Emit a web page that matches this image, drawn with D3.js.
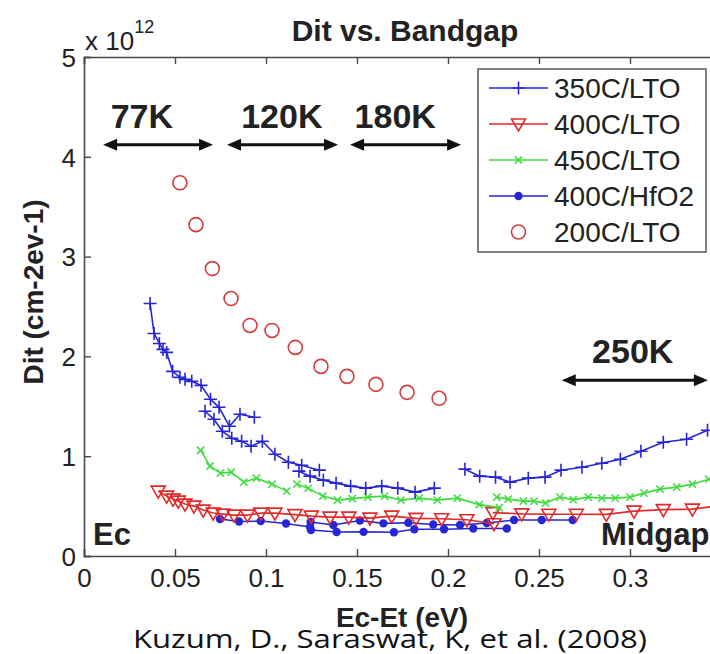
<!DOCTYPE html>
<html>
<head>
<meta charset="utf-8">
<script src="https://cdn.jsdelivr.net/npm/d3@7/dist/d3.min.js"></script>
<style>
  html, body { margin: 0; padding: 0; background: #fff; }
  svg { display: block; }
</style>
</head>
<body>
<svg id="chart" width="710" height="654"></svg>
<script>
// ---- data: Dit (x 1e12 cm^-2 eV^-1) against Ec-Et (eV) ----
const xTicks = [0, 0.05, 0.1, 0.15, 0.2, 0.25, 0.3];
const xTickLabels = ["0", "0.05", "0.1", "0.15", "0.2", "0.25", "0.3"];
const yTicks = [0, 1, 2, 3, 4, 5];
const yTickLabels = ["0", "1", "2", "3", "4", "5"];

const seriesNames = ["350C/LTO", "400C/LTO", "450C/LTO", "400C/HfO2", "200C/LTO"];

// 350C/LTO, one run per measurement temperature
const lto350_77K = [[0.0363,2.53],[0.0385,2.23],[0.0414,2.13],[0.0434,2.07],[0.0454,2.04],[0.0487,1.85],[0.0527,1.79],[0.0555,1.77],[0.0592,1.75],[0.0643,1.71],[0.0695,1.57],[0.0742,1.49],[0.0799,1.30],[0.0857,1.42],[0.0936,1.39]];
const lto350_120K = [[0.0665,1.45],[0.0714,1.37],[0.0760,1.25],[0.0812,1.18],[0.0866,1.15],[0.0918,1.10],[0.0980,1.15],[0.1049,1.02],[0.1123,0.94],[0.1196,0.91],[0.1293,0.86]];
const lto350_180K = [[0.1181,0.85],[0.1242,0.80],[0.1315,0.76],[0.1385,0.73],[0.1465,0.70],[0.1548,0.68],[0.1636,0.70],[0.1724,0.68],[0.1819,0.64],[0.1925,0.68]];
const lto350_250K = [[0.2093,0.87],[0.2174,0.80],[0.2261,0.79],[0.2341,0.74],[0.2441,0.78],[0.2533,0.79],[0.2621,0.86],[0.2736,0.89],[0.2845,0.93],[0.2947,0.97],[0.3060,1.05],[0.3183,1.14],[0.3311,1.17],[0.3426,1.26]];

// 400C/LTO
const lto400_low = [[0.0408,0.65],[0.0454,0.60],[0.0489,0.57],[0.0518,0.55],[0.0555,0.52],[0.0604,0.50],[0.0655,0.46],[0.0710,0.43],[0.0764,0.42],[0.0824,0.41],[0.0898,0.41],[0.0971,0.43],[0.1049,0.43],[0.1159,0.415],[0.1249,0.40],[0.1352,0.39],[0.1455,0.39],[0.1571,0.38],[0.1691,0.40],[0.1824,0.377],[0.1965,0.373],[0.2104,0.363],[0.2253,0.323]];
const lto400_high = [[0.2247,0.435],[0.2405,0.422],[0.2554,0.418],[0.2705,0.418],[0.2870,0.417],[0.3022,0.45],[0.3183,0.465],[0.3343,0.47],[0.3520,0.51]];

// 450C/LTO
const lto450_a = [[0.0641,1.06],[0.0692,0.90],[0.0750,0.83],[0.0809,0.84],[0.0878,0.74],[0.0947,0.78],[0.1033,0.72],[0.1114,0.65]];
const lto450_b = [[0.1170,0.72],[0.1232,0.68],[0.1312,0.60],[0.1393,0.56],[0.1474,0.575],[0.1560,0.59],[0.1652,0.60],[0.1741,0.56],[0.1842,0.58],[0.1941,0.56],[0.2051,0.58],[0.2172,0.515],[0.2282,0.485]];
const lto450_c = [[0.2268,0.59],[0.2331,0.57],[0.2414,0.55],[0.2473,0.55],[0.2536,0.53],[0.2615,0.59],[0.2688,0.565],[0.2771,0.59],[0.2845,0.58],[0.2918,0.58],[0.3000,0.59],[0.3077,0.63],[0.3165,0.67],[0.3257,0.69],[0.3343,0.72],[0.3433,0.77]];

// 400C/HfO2
const hfo2_a = [[0.0747,0.37],[0.0852,0.345],[0.0971,0.35],[0.1110,0.325],[0.1242,0.29]];
const hfo2_b = [[0.1247,0.26],[0.1388,0.24],[0.1536,0.242],[0.1703,0.238],[0.1815,0.268],[0.1978,0.268],[0.2139,0.275],[0.2323,0.275]];
const hfo2_c = [[0.1245,0.34],[0.1370,0.31],[0.1516,0.355],[0.1645,0.327],[0.1782,0.333],[0.1919,0.315],[0.2066,0.31],[0.2213,0.33],[0.2363,0.36],[0.2515,0.36],[0.2685,0.36]];

// 200C/LTO (markers only)
const lto200 = [[0.0527,3.74],[0.0615,3.32],[0.0705,2.88],[0.0808,2.58],[0.0912,2.31],[0.1033,2.26],[0.1161,2.09],[0.1302,1.90],[0.1445,1.80],[0.1604,1.72],[0.1775,1.64],[0.1951,1.58]];

// temperature windows marked with arrows
const tempLabels = ["77K", "120K", "180K", "250K"];
const tempRanges = [[0.0105, 0.0709], [0.0786, 0.1396], [0.1462, 0.2072], [0.2625, 0.3428]];
const tempLevels = [4.12, 4.12, 4.12, 1.76];
const tempLabelPos = [0.0318, 0.1087, 0.1710, 0.3015];

// ---- styles ----
const BLUE = "#2626d6", RED = "#e22a2a", GREEN = "#3fdc3f", CIRC = "#d43c3c", AXIS = "#4a4a4a";
const SANS = "'Liberation Sans', Arial, sans-serif";

const svg = d3.select("#chart");
const x = d3.scaleLinear().domain([0, 0.35]).range([84, 721]);
const y = d3.scaleLinear().domain([0, 5]).range([556, 57]);

svg.append("defs").append("clipPath").attr("id", "plotclip")
  .append("rect").attr("x", 84).attr("y", 40).attr("width", 637).attr("height", 530);

// axes (ticks pointing inward, box on top)
const axisBottom = d3.axisBottom(x).tickValues(xTicks).tickFormat((d, i) => xTickLabels[i]).tickSize(-7).tickPadding(13);
const axisTop = d3.axisTop(x).tickValues(xTicks).tickFormat("").tickSize(-7);
const axisLeft = d3.axisLeft(y).tickValues(yTicks).tickFormat((d, i) => yTickLabels[i]).tickSize(-7).tickPadding(8);

function styleAxis(g) {
  g.selectAll(".domain").attr("stroke", AXIS).attr("stroke-width", 1.6);
  g.selectAll(".tick line").attr("stroke", AXIS).attr("stroke-width", 1.4);
  g.selectAll(".tick text").attr("fill", "#222").style("font-family", SANS).style("font-size", "26px");
}
svg.append("g").attr("transform", "translate(0,556)").call(axisBottom).call(styleAxis)
  .call(g => g.selectAll(".tick text").attr("dy", "0.71em"));
svg.append("g").attr("transform", "translate(0,57)").call(axisTop).call(styleAxis);
svg.append("g").attr("transform", "translate(84,0)").call(axisLeft).call(styleAxis)
  .call(g => g.selectAll(".tick text").attr("dy", "0.36em"));

// exponent note
const expo = svg.append("text").attr("x", 85).attr("y", 50)
  .style("font-family", SANS).style("font-size", "26px").attr("fill", "#222");
expo.append("tspan").text("x 10");
expo.append("tspan").attr("dy", -17).style("font-size", "18px").text("12");

// title & axis labels
svg.append("text").attr("x", 405).attr("y", 41).attr("text-anchor", "middle")
  .style("font-family", SANS).style("font-weight", "bold").style("font-size", "30px")
  .attr("fill", "#222").text("Dit vs. Bandgap");
svg.append("text").attr("transform", "translate(43,292) rotate(-90)").attr("text-anchor", "middle")
  .style("font-family", SANS).style("font-weight", "bold").style("font-size", "28px")
  .attr("fill", "#222").text("Dit (cm-2ev-1)");
svg.append("text").attr("x", 402).attr("y", 627).attr("text-anchor", "middle")
  .style("font-family", SANS).style("font-weight", "bold").style("font-size", "28px")
  .attr("fill", "#222").text("Ec-Et (eV)");
svg.append("text").attr("x", 390).attr("y", 648).attr("text-anchor", "middle")
  .style("font-family", "'Open Sans', 'Noto Sans', sans-serif").style("font-size", "25px")
  .attr("textLength", 514).attr("lengthAdjust", "spacingAndGlyphs")
  .attr("fill", "#111").text("Kuzum, D., Saraswat, K, et al. (2008)");

// ---- marker shapes ----
const plusPath = s => `M${-s},0H${s}M0,${-s}V${s}`;
const xPath = s => `M${-s},${-s}L${s},${s}M${-s},${s}L${s},${-s}`;
const triPath = (w, h1, h2) => `M${-w},${-h1}L${w},${-h1}L0,${h2}Z`;

const plot = svg.append("g").attr("clip-path", "url(#plotclip)");
const line = d3.line().x(d => x(d[0])).y(d => y(d[1]));

function drawRun(data, color, marker) {
  plot.append("path").datum(data).attr("d", line).attr("fill", "none")
    .attr("stroke", color).attr("stroke-width", 1.6);
  const pts = plot.append("g").selectAll("g").data(data).join("g")
    .attr("transform", d => `translate(${x(d[0])},${y(d[1])})`);
  marker(pts, color);
}
const plusMarker = (sel, c) => sel.append("path").attr("d", plusPath(6.5)).attr("stroke", c).attr("stroke-width", 1.6).attr("fill", "none");
const triMarker = (sel, c) => sel.append("path").attr("d", triPath(7, 5, 7)).attr("stroke", c).attr("stroke-width", 1.6).attr("fill", "none");
const xMarker = (sel, c) => sel.append("path").attr("d", xPath(3.6)).attr("stroke", c).attr("stroke-width", 1.6).attr("fill", "none");
const dotMarker = (sel, c) => sel.append("circle").attr("r", 4.2).attr("fill", c);

[hfo2_a, hfo2_b, hfo2_c].forEach(r => drawRun(r, BLUE, dotMarker));
[lto400_low, lto400_high].forEach(r => drawRun(r, RED, triMarker));
[lto450_a, lto450_b, lto450_c].forEach(r => drawRun(r, GREEN, xMarker));
[lto350_77K, lto350_120K, lto350_180K, lto350_250K].forEach(r => drawRun(r, BLUE, plusMarker));

plot.append("g").selectAll("circle").data(lto200).join("circle")
  .attr("cx", d => x(d[0])).attr("cy", d => y(d[1])).attr("r", 7)
  .attr("fill", "none").attr("stroke", CIRC).attr("stroke-width", 1.6);

// ---- temperature annotations ----
const ann = svg.append("g");
function arrow(x1, x2, yy) {
  const g = ann.append("g");
  g.append("line").attr("x1", x1 + 8).attr("x2", x2 - 8).attr("y1", yy).attr("y2", yy)
    .attr("stroke", "#111").attr("stroke-width", 3);
  g.append("path").attr("d", `M${x1},${yy}L${x1 + 14},${yy - 6}L${x1 + 14},${yy + 6}Z`).attr("fill", "#111");
  g.append("path").attr("d", `M${x2},${yy}L${x2 - 14},${yy - 6}L${x2 - 14},${yy + 6}Z`).attr("fill", "#111");
}
tempRanges.forEach((r, i) => {
  const yy = y(tempLevels[i]);
  arrow(x(r[0]), x(r[1]), yy);
  ann.append("text").attr("x", x(tempLabelPos[i])).attr("y", yy - 17).attr("text-anchor", "middle")
    .style("font-family", SANS).style("font-weight", "bold").style("font-size", "34px")
    .attr("fill", "#222").text(tempLabels[i]);
});

const bandLabel = (t, xx, yy) => svg.append("text").attr("x", xx).attr("y", yy)
  .style("font-family", SANS).style("font-weight", "bold").style("font-size", "31px")
  .attr("fill", "#222").text(t);
bandLabel("Ec", 93, 545);
bandLabel("Midgap", 601, 545);

// ---- legend ----
const legend = svg.append("g");
legend.append("rect").attr("x", 478).attr("y", 69).attr("width", 228).attr("height", 183)
  .attr("fill", "#fff").attr("stroke", AXIS).attr("stroke-width", 1.4);
const legendMarkers = [plusMarker, triMarker, xMarker, dotMarker, null];
const legendColors = [BLUE, RED, GREEN, BLUE, CIRC];
seriesNames.forEach((name, i) => {
  const yy = 88 + i * 36;
  const g = legend.append("g");
  if (legendMarkers[i]) {
    g.append("line").attr("x1", 489).attr("x2", 548).attr("y1", yy).attr("y2", yy)
      .attr("stroke", legendColors[i]).attr("stroke-width", 1.6);
    legendMarkers[i](g.append("g").attr("transform", `translate(518.5,${yy})`), legendColors[i]);
  } else {
    g.append("circle").attr("cx", 518.5).attr("cy", yy).attr("r", 7)
      .attr("fill", "none").attr("stroke", legendColors[i]).attr("stroke-width", 1.6);
  }
  g.append("text").attr("x", 554).attr("y", yy).attr("dy", "0.36em")
    .style("font-family", SANS).style("font-size", "28px")
    .attr("fill", "#222").text(name);
});
</script>
</body>
</html>
